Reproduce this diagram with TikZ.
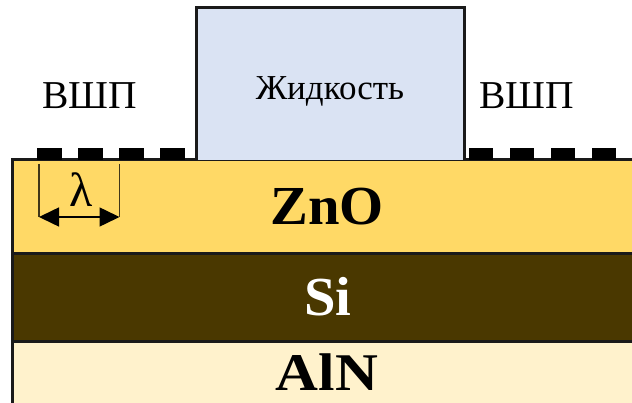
\documentclass[tikz,border=0pt]{standalone}
\usepackage{fontspec}
\usepackage{graphicx}
\setmainfont{Liberation Serif}
\usetikzlibrary{arrows.meta}
\definecolor{zno}{HTML}{FFD966}
\definecolor{sil}{HTML}{4A3800}
\definecolor{aln}{HTML}{FFF2CC}
\definecolor{liq}{HTML}{DAE3F3}
\definecolor{edge}{HTML}{1A1A1A}
\newcommand{\wide}[1]{\scalebox{1.03}[1]{#1}}
\tikzset{
  x=1pt,y=-1pt,
  layer/.style={draw=edge,line width=3pt},
  finger/.style={fill=black,draw=none},
  lab/.style={inner sep=0pt,anchor=center},
  dim/.style={draw=black!75!zno,line width=1.5pt},
  dimarrow/.style={draw=black,line width=1.5pt,{Triangle[length=20pt,width=19pt]}-{Triangle[length=20pt,width=19pt]}}
}
\begin{document}
\begin{tikzpicture}
\useasboundingbox (0,0) rectangle (632,403);
\fill[white] (0,0) rectangle (632,403);
% layers
\path[fill=aln] (12,342) rectangle (640,410);
\path[fill=sil] (12,254) rectangle (640,342);
\path[fill=zno] (12,160) rectangle (640,254);
\draw[layer] (640,160) -- (12,160) -- (12,410);
\draw[layer] (12,254) -- (640,254);
\draw[layer] (12,342) -- (640,342);
% liquid
\draw[layer,fill=liq] (196,160) -- (196,8) -- (464,8) -- (464,160);
% fingers
\foreach \a in {37,78,119,160}{\fill[finger] (\a,148) rectangle ++(24.5,12);}
\foreach \a in {468.5,509.5,550.5,591.5}{\fill[finger] (\a,148) rectangle ++(24.5,12);}
% lambda
\coordinate (la) at (39,217);
\coordinate (lb) at (119.5,217);
\draw[dim] (39,164) -- (la);
\draw[dim] (119.5,164) -- (lb);
\draw[dimarrow] (la) -- (lb);
\node[lab] (lam) at (81,190) {\fontsize{48}{48}\selectfont λ};
% labels
\node[lab] (v1) at (90,96) {\fontsize{39.5}{39.5}\selectfont ВШП};
\node[lab] (v2) at (527,96) {\fontsize{39.5}{39.5}\selectfont ВШП};
\node[lab] (liqt) at (330,91) {\fontsize{35}{35}\selectfont Жидкость};
\node[lab] (t1) at (327,207) {\fontsize{55}{55}\selectfont\bfseries\wide{ZnO}};
\node[lab] (t2) at (328,297) {\fontsize{55}{55}\selectfont\bfseries\color{white}\wide{Si}};
\node[lab] (t3) at (327,372) {\fontsize{53}{53}\selectfont\bfseries\scalebox{1.12}[1]{AlN}};
\end{tikzpicture}
\end{document}
